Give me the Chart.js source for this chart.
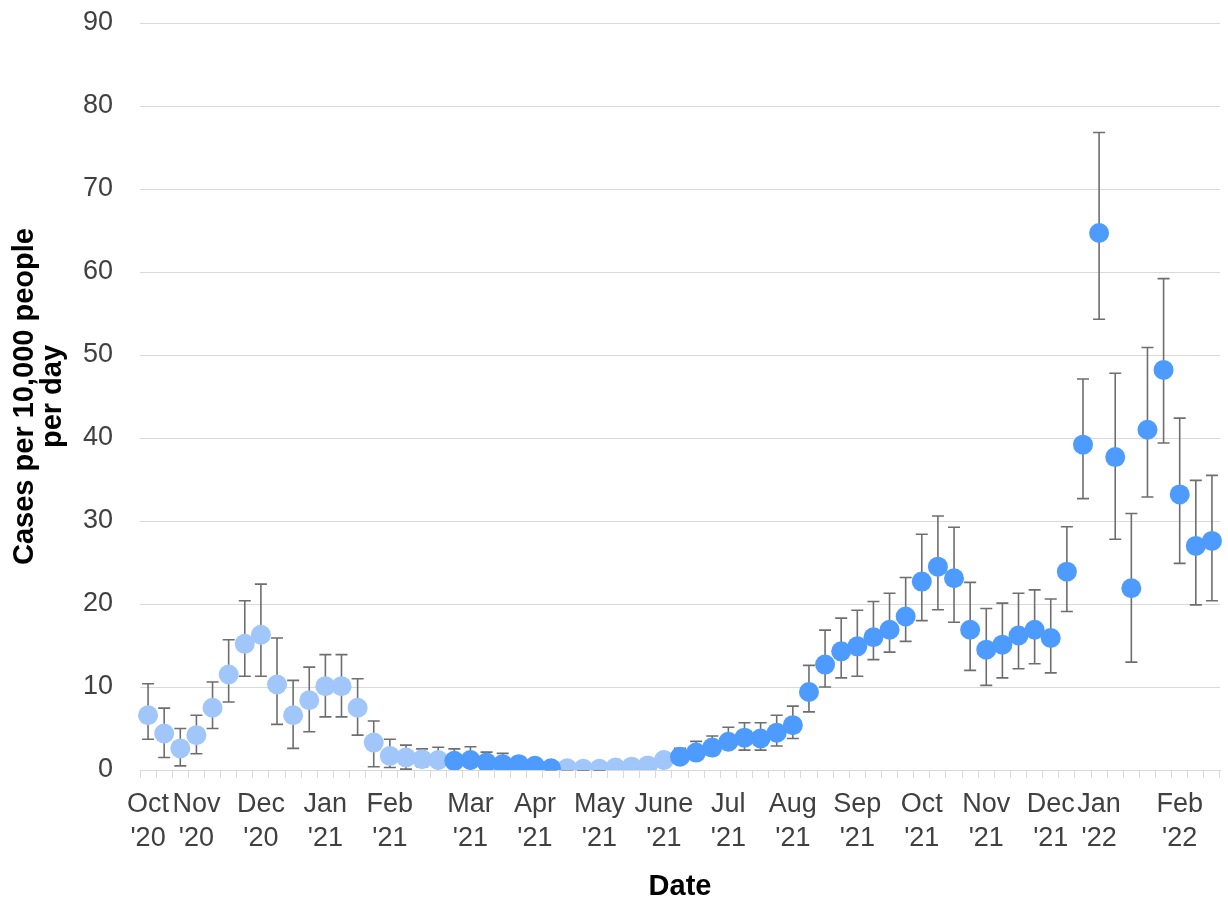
<!DOCTYPE html>
<html><head><meta charset="utf-8">
<script src="https://cdn.jsdelivr.net/npm/chart.js@4.4.1/dist/chart.umd.min.js"></script>
<style>
html,body{margin:0;padding:0;overflow:hidden;background:#fff;}
#wrap{width:1228px;height:904px;overflow:hidden;position:relative;}
#inner{width:1230px;height:904px;}
</style></head><body>
<div id="wrap"><div id="inner"><canvas id="c" width="1230" height="904"></canvas></div></div>
<script>
// Weekly cases per 10,000 people per day (Oct 2020 - Feb 2022)
const cases = [6.6,4.4,2.6,4.2,7.5,11.5,15.2,16.3,10.3,6.6,8.4,10.1,10.1,7.5,3.3,1.7,1.5,1.3,1.2,
  1.1,1.2,0.9,0.7,0.7,0.5,0.2,
  0.2,0.15,0.15,0.3,0.4,0.55,1.2,
  1.6,2.1,2.7,3.4,3.9,3.8,4.5,5.4,9.4,12.7,14.3,14.9,16.0,16.9,18.5,22.7,24.5,23.1,16.9,14.5,15.1,16.2,16.9,15.9,23.9,39.2,64.7,37.7,21.9,41.0,48.2,33.2,27.0,27.6];
const upperCI = [10.4,7.45,5.0,6.6,10.6,15.7,20.4,22.4,15.9,10.8,12.4,13.9,13.9,11.0,5.9,3.7,3.0,2.55,2.75,
  2.55,2.8,2.15,2.0,1.6,1.3,0.9,
  0.8,0.7,0.7,0.9,1.0,1.3,2.0,
  2.6,3.45,4.1,5.15,5.7,5.7,6.6,7.7,12.6,16.85,18.3,19.25,20.3,21.3,23.2,28.4,30.6,29.25,22.6,19.45,20.1,21.3,21.7,20.6,29.3,47.1,76.8,47.8,30.9,50.9,59.2,42.4,34.9,35.5];
const lowerCI = [3.7,1.5,0.5,1.95,5.0,8.2,11.3,11.3,5.5,2.6,4.6,6.4,6.4,4.2,0.4,0.3,0.1,0.4,0.4,
  0.4,0.4,0.3,0.2,0.2,0.1,0.05,
  0.05,0.02,0.02,0.1,0.1,0.2,0.6,
  0.9,1.4,1.8,2.6,2.4,2.4,2.9,3.8,7.0,10.0,11.1,11.3,13.3,14.2,15.5,18.0,19.3,17.8,12.0,10.2,11.1,12.2,12.8,11.7,19.1,32.7,54.3,27.8,13.0,32.9,39.4,24.9,19.9,20.4];
// 0 = light series, 1 = dark series
const seriesGroup = [0,0,0,0,0,0,0,0,0,0,0,0,0,0,0,0,0,0,0,
  1,1,1,1,1,1,1,
  0,0,0,0,0,0,0,
  1,1,1,1,1,1,1,1,1,1,1,1,1,1,1,1,1,1,1,1,1,1,1,1,1,1,1,1,1,1,1,1,1,1];
// Month tick labels and the week they sit under
const monthNames = ["Oct","Nov","Dec","Jan","Feb","Mar","Apr","May","June","Jul","Aug","Sep","Oct","Nov","Dec","Jan","Feb"];
const monthYears = ["'20","'20","'20","'21","'21","'21","'21","'21","'21","'21","'21","'21","'21","'21","'21","'22","'22"];
const monthWeek = [0,3,7,11,15,20,24,28,32,36,40,44,48,52,56,59,64];

const labels = cases.map(() => "");
monthWeek.forEach((w, k) => { labels[w] = [monthNames[k], monthYears[k]]; });

const lightColor = '#A0C6FA';
const darkColor = '#4D9BFF';

const errorBars = {
  id: 'errorBars',
  beforeDatasetsDraw(chart) {
    const {ctx, scales: {x, y}} = chart;
    ctx.save();
    ctx.strokeStyle = '#6e6e6e';
    ctx.lineWidth = 1.6;
    const hw = 6;
    for (let i = 0; i < cases.length; i++) {
      const px = x.getPixelForValue(i);
      const yt = y.getPixelForValue(upperCI[i]);
      const yb = y.getPixelForValue(lowerCI[i]);
      ctx.beginPath();
      ctx.moveTo(px, yt); ctx.lineTo(px, yb);
      ctx.moveTo(px - hw, yt); ctx.lineTo(px + hw, yt);
      ctx.moveTo(px - hw, yb); ctx.lineTo(px + hw, yb);
      ctx.stroke();
    }
    ctx.restore();
  }
};

const mk = (g, color) => ({
  data: cases.map((v, i) => seriesGroup[i] === g ? v : null),
  showLine: false,
  pointRadius: 10,
  pointHoverRadius: 10,
  pointBorderWidth: 0,
  pointBackgroundColor: color,
  backgroundColor: color,
  borderColor: color
});

new Chart(document.getElementById('c'), {
  type: 'line',
  data: {
    labels: labels,
    datasets: [mk(1, darkColor), mk(0, lightColor)]
  },
  options: {
    responsive: false,
    devicePixelRatio: 1,
    animation: false,
    events: [],
    layout: {padding: {top: 23, right: 0, bottom: 0, left: 0}},
    plugins: {legend: {display: false}, tooltip: {enabled: false}},
    scales: {
      x: {
        type: 'category',
        offset: true,
        grid: {offset: true, drawOnChartArea: false, drawTicks: true, tickLength: 8, color: '#d9d9d9', lineWidth: 1},
        border: {display: true, color: '#d9d9d9', width: 1},
        ticks: {autoSkip: false, maxRotation: 0, minRotation: 0, padding: 10, color: '#404040',
          font: {family: '"Liberation Sans", Arial, sans-serif', size: 27, lineHeight: 1.25}},
        title: {display: true, text: 'Date', color: '#000', padding: {top: 0, bottom: 3},
          font: {family: '"Liberation Sans", Arial, sans-serif', size: 29, weight: 'bold', lineHeight: 1}},
        afterFit(s) { s.height = 134; s.paddingLeft = 0; s.paddingRight = 0; }
      },
      y: {
        min: 0, max: 90,
        ticks: {stepSize: 10, padding: 27, color: '#404040',
          font: {family: '"Liberation Sans", Arial, sans-serif', size: 27}},
        grid: {color: '#d9d9d9', lineWidth: 1, drawTicks: false},
        border: {display: false},
        title: {display: true, text: ['Cases per 10,000 people', 'per day'], color: '#000', padding: {top: 11, bottom: 0},
          font: {family: '"Liberation Sans", Arial, sans-serif', size: 29, weight: 'bold', lineHeight: 0.97}},
        afterFit(s) { s.width = 140; s.paddingTop = 0; s.paddingBottom = 0; }
      }
    }
  },
  plugins: [errorBars]
});
</script>
</body></html>
